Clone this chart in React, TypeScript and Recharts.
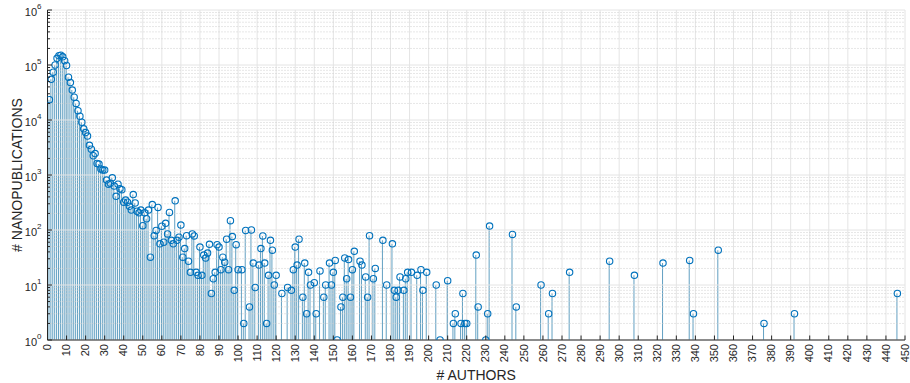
import React from 'react';
import { ComposedChart, Bar, Scatter, XAxis, YAxis, CartesianGrid, ReferenceLine } from 'recharts';

// number of authors per nanopublication (x) and how many nanopublications have it (y)
const authors = [
  1, 2, 3, 4, 5, 6, 7, 8, 9, 10, 11, 12, 13, 14, 15, 16, 17, 18, 19, 20,
  21, 22, 23, 24, 25, 26, 27, 28, 29, 30, 31, 32, 33, 34, 35, 36, 37, 38, 39, 40,
  41, 42, 43, 44, 45, 46, 47, 48, 49, 50, 51, 52, 53, 54, 55, 56, 57, 58, 59, 60,
  61, 62, 63, 64, 65, 66, 67, 68, 69, 70, 71, 72, 73, 74, 75, 76, 77, 78, 79, 80,
  81, 82, 83, 84, 85, 86, 87, 88, 89, 90, 91, 92, 93, 94, 95, 96, 97, 98, 99, 100,
  102, 103, 104, 106, 107, 108, 109, 111, 112, 113, 114, 115, 116, 117, 118, 119, 120,
  123, 126, 128, 129, 130, 131, 132, 134, 135, 136, 137, 138, 140, 141, 143, 145, 146,
  148, 149, 150, 151, 152, 154, 155, 156, 157, 158, 159, 160, 161, 164, 165, 167, 168,
  169, 171, 172, 176, 178, 181, 182, 183, 184, 185, 187, 188, 189, 191, 194, 196, 197,
  199, 204, 206, 210, 213, 214, 217, 218, 219, 220, 225, 226, 230, 231, 232, 244, 246,
  259, 263, 265, 274, 295, 308, 323, 337, 339, 352, 376, 392, 446,
];

const counts = [
  23400, 55000, 74000, 100000, 132000, 148000, 151000, 141000, 120000, 98000,
  60000, 48000, 35000, 26000, 20000, 14800, 11700, 9100, 6900, 5900,
  5100, 3470, 2950, 2240, 2450, 1620, 1580, 1290, 1230, 1230,
  810, 680, 710, 890, 630, 410, 680, 560, 540, 320,
  350, 320, 270, 230, 440, 310, 220, 205, 230, 120,
  205, 160, 230, 32, 290, 79, 98, 257, 56, 117,
  60, 132, 85, 209, 65, 56, 339, 65, 74, 123,
  32, 46, 79, 27, 17, 85, 78, 17, 15, 49,
  15, 35, 31, 38, 55, 7, 13, 17, 54, 49, 19, 32, 26, 68, 19, 148, 76, 8, 54, 19,
  19, 2, 98, 4, 100, 25, 9, 23, 46, 78, 25, 2, 15, 65, 43, 10, 15,
  7, 9, 8, 19, 49, 23, 68, 6, 25, 3, 17, 10, 11, 3, 18, 6, 10,
  25, 10, 17, 28, 1, 4, 6, 31, 13, 29, 6, 19, 41, 27, 23, 14, 6,
  79, 13, 20, 65, 10, 56, 8, 6, 8, 14, 8, 13, 17, 17, 15, 19, 8,
  17, 10, 1, 12, 2, 3, 2, 7, 2, 2, 35, 4, 1, 3, 118, 83, 4,
  10, 3, 7, 17, 27, 15, 25, 28, 3, 43, 2, 3, 7,
];

const xTicks = [
  0, 10, 20, 30, 40, 50, 60, 70, 80, 90, 100, 110, 120, 130, 140, 150, 160, 170, 180, 190,
  200, 210, 220, 230, 240, 250, 260, 270, 280, 290, 300, 310, 320, 330, 340, 350, 360, 370,
  380, 390, 400, 410, 420, 430, 440, 450,
];
const yMajor = [1, 10, 100, 1000, 10000, 100000, 1000000];
const yMinor = yMajor.slice(0, -1).flatMap((d) => [2, 3, 4, 5, 6, 7, 8, 9].map((m) => m * d));

const data = authors.map((a, i) => ({ authors: a, count: counts[i] }));

const BLUE = '#0072BD';
const STEM = '#1f78a8';
const INK = '#262626';
const FONT = '"Liberation Sans", Arial, Helvetica, sans-serif';

const XTick = ({ x, y, payload }: any) => (
  <g>
    <line x1={x} x2={x} y1={y - 4} y2={y - 8.5} stroke={INK} strokeWidth={1} />
    <text
      x={x}
      y={y}
      transform={`rotate(-90 ${x} ${y})`}
      textAnchor="end"
      dy="0.33em"
      fontSize={11}
      fontFamily={FONT}
      fill={INK}
    >
      {payload.value}
    </text>
  </g>
);

const YTick = ({ x, y, payload }: any) => {
  const lg = Math.log10(payload.value);
  const exp = Math.round(lg);
  const major = Math.abs(lg - exp) < 1e-6;
  const ax = x + 5;
  return (
    <g>
      <line x1={ax} x2={ax + (major ? 4.5 : 2.5)} y1={y} y2={y} stroke={INK} strokeWidth={1} />
      {major && (
        <text x={x - 1} y={y} textAnchor="end" dy="0.55em" fontSize={11} fontFamily={FONT} fill={INK}>
          <tspan>10</tspan>
          <tspan dy={-7} fontSize={8}>{exp}</tspan>
        </text>
      )}
    </g>
  );
};

const Ring = ({ cx, cy }: any) => (
  <circle cx={cx} cy={cy} r={3.2} fill="none" stroke={BLUE} strokeWidth={1.1} />
);

export default function App() {
  return (
    <div style={{ position: 'absolute', left: 0, top: 0, background: '#fff' }}>
      <ComposedChart
        width={910}
        height={383}
        data={data}
        margin={{ top: 10, right: 5, bottom: 0, left: 0 }}
      >
        <CartesianGrid horizontal={false} stroke="#e4e4e4" />
        {yMinor.map((v) => (
          <ReferenceLine key={'n' + v} y={v} stroke="#cfcfcf" strokeDasharray="1 2" />
        ))}
        {yMajor.map((v) => (
          <ReferenceLine key={'j' + v} y={v} stroke="#e4e4e4" />
        ))}
        <XAxis
          dataKey="authors"
          type="number"
          domain={[0, 450]}
          ticks={xTicks}
          interval={0}
          height={43}
          tickSize={0}
          tickMargin={4}
          tickLine={false}
          stroke={INK}
          tick={<XTick />}
          allowDataOverflow
          label={{
            value: '# AUTHORS',
            position: 'insideBottom',
            offset: 3,
            fill: INK,
            fontSize: 14,
            fontFamily: FONT,
          }}
        />
        <XAxis
          xAxisId="top"
          orientation="top"
          type="number"
          domain={[0, 450]}
          ticks={xTicks}
          interval={0}
          height={0}
          mirror
          tick={false}
          tickSize={4.5}
          stroke={INK}
          allowDataOverflow
        />
        <YAxis
          type="number"
          scale="log"
          domain={[1, 1000000]}
          ticks={[...yMajor, ...yMinor]}
          interval={0}
          width={47.5}
          tickSize={0}
          tickMargin={5}
          tickLine={false}
          stroke={INK}
          tick={<YTick />}
          allowDataOverflow
          label={{
            value: '# NANOPUBLICATIONS',
            angle: -90,
            position: 'insideLeft',
            offset: 17,
            fill: INK,
            fontSize: 14,
            fontFamily: FONT,
            style: { textAnchor: 'middle' },
          }}
        />
        <YAxis
          yAxisId="right"
          orientation="right"
          type="number"
          scale="log"
          domain={[1, 1000000]}
          ticks={[...yMajor, ...yMinor]}
          interval={0}
          width={0}
          mirror
          tick={false}
          tickSize={3}
          stroke={INK}
          allowDataOverflow
        />
        <Bar dataKey="count" barSize={1} fill={STEM} fillOpacity={0.7} isAnimationActive={false} />
        <Scatter dataKey="count" shape={Ring} isAnimationActive={false} />
      </ComposedChart>
    </div>
  );
}
